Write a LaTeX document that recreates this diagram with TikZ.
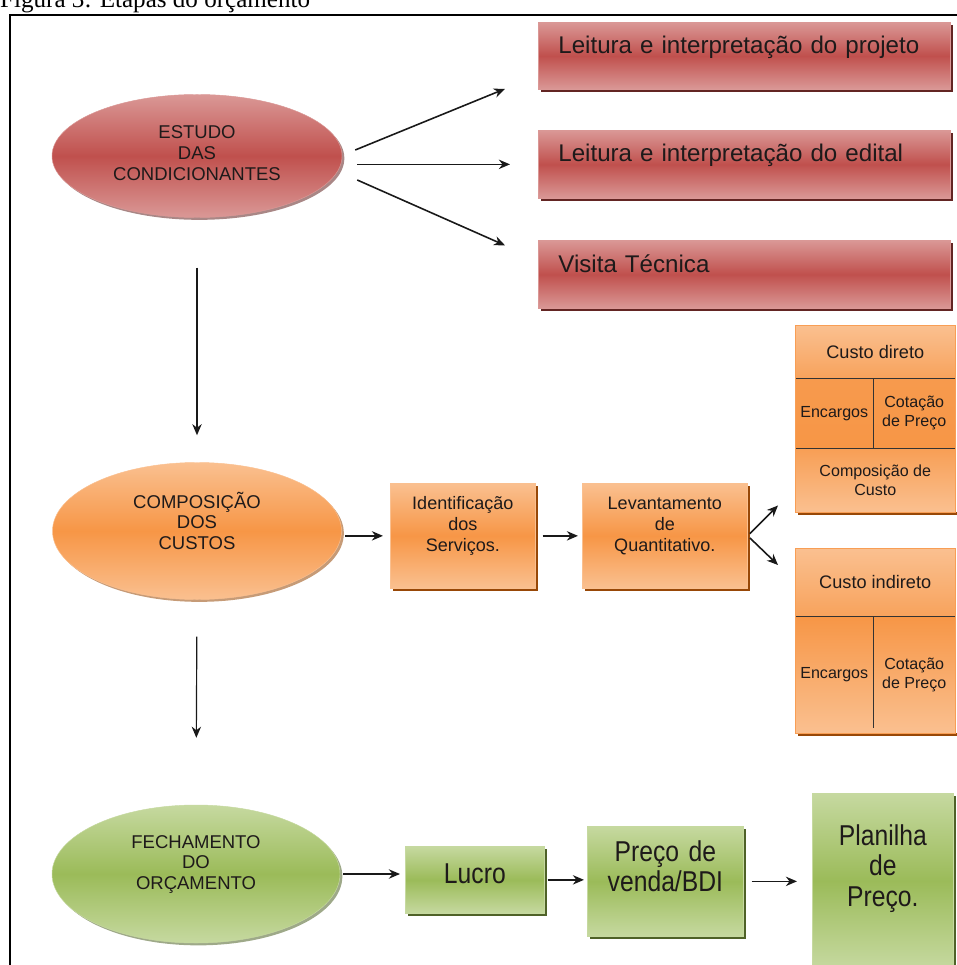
\documentclass[tikz,border=0pt]{standalone}
\usepackage{fontspec}
\setmainfont{Liberation Sans}
\newfontfamily\tnr{Liberation Serif}
\newfontfamily\nrw[FakeStretch=0.86]{Liberation Sans}
\usetikzlibrary{arrows.meta,shapes.geometric,shadows,calc}
\definecolor{redmd}{HTML}{C0504D}
\definecolor{redlt}{HTML}{DA9896}
\definecolor{reddk}{HTML}{632523}
\definecolor{orgmd}{HTML}{F79646}
\definecolor{orglt}{HTML}{FAC090}
\definecolor{orgdk}{HTML}{984807}
\definecolor{grnmd}{HTML}{9BBB59}
\definecolor{grnlt}{HTML}{C6D9A0}
\definecolor{grndk}{HTML}{4F6228}
\definecolor{ink}{HTML}{1E1A1A}
\newcommand{\fsz}[2]{\fontsize{#1}{#2}\selectfont}
\tikzset{
  oval/.style={ellipse,inner sep=0pt,align=center,text width=6cm,text=ink,draw=#1lt,line width=.4pt,
    top color=#1lt,bottom color=#1lt,middle color=#1md,font=\fsz{15.8}{17.5},
    drop shadow={shadow xshift=2pt,shadow yshift=-2pt,fill=#1dk,opacity=.55}},
  blk/.style={rectangle,anchor=north west,inner sep=0pt,align=center,text=ink,draw=#1lt,line width=.6pt,
    top color=#1lt,bottom color=#1lt,middle color=#1md,
    drop shadow={shadow xshift=2.6pt,shadow yshift=-2.6pt,fill=#1dk,opacity=1}},
  cellbox/.style={rectangle,anchor=north west,inner sep=0pt,align=center,text=ink},
  cellhd/.style={font=\fsz{15.5}{18}},
  celltx/.style={font=\fsz{13.7}{16}},
  sep/.style={draw=black!80,line width=.7pt},
  arr/.style={-{Stealth[length=9.5pt,width=8pt]},line width=1.35pt,draw=black!90}
}
\newcommand{\tabcell}[9]{\node[cellbox,#1,top color=#7,bottom color=#8,minimum width=#5cm,minimum height=#6cm] (#2) at (#3,#4) {#9};}

\begin{document}
\begin{tikzpicture}[x=0.03cm,y=-0.03cm]
\useasboundingbox (0,0) rectangle (956,965);
\node[anchor=base west,inner sep=0pt] (ttl) at (0,8) {\tnr\fsz{21.4}{24}Figura 3: Etapas do orçamento};
\draw[line width=1.7pt] (10,1000) -- (10,15) -- (1000,15);

% etapa 1
\node[oval=red,minimum width=8.7cm,minimum height=3.69cm,text height=.6cm,text depth=1.62cm] (est) at (197,156) {ESTUDO\\DAS\\CONDICIONANTES};
\node[blk=red,align=left,text width=11.16cm,inner xsep=.6cm,text height=.93cm,text depth=1.08cm,font=\fsz{20.6}{24}] (b1) at (538,22) {Leitura e interpretação do projeto};
\node[blk=red,align=left,text width=11.16cm,inner xsep=.6cm,text height=.93cm,text depth=1.11cm,font=\fsz{20.6}{24}] (b2) at (538,130) {Leitura e interpretação do edital};
\node[blk=red,align=left,text width=11.16cm,inner xsep=.6cm,text height=.96cm,text depth=1.08cm,font=\fsz{20.6}{24}] (b3) at (538,240) {Visita Técnica};
\draw[arr] ([shift={(13,-6)}]est.east) -- ([shift={(-33,33)}]b1.west);
\draw[arr,shorten <=.45cm,shorten >=.84cm] (b2.west -| est.east) -- (b2.west);
\draw[arr] ([shift={(15,24)}]est.east) -- ([shift={(-33,-29)}]b3.west);

% etapa 2
\node[oval=org,minimum width=8.67cm,minimum height=4.11cm,text height=.6cm,text depth=1.98cm] (comp) at (197,531) {COMPOSIÇÃO\\DOS\\CUSTOS};
\node[blk=org,text width=4.35cm,text height=.78cm,text depth=2.37cm,font=\fsz{15.4}{18}] (ident) at (390,483) {Identificação\\dos\\Serviços.};
\node[blk=org,text width=4.95cm,text height=.78cm,text depth=2.37cm,font=\fsz{15.4}{18}] (lev) at (582,483) {Levantamento\\de\\Quantitativo.};
\draw[arr,line width=1pt,shorten <=1.5cm,shorten >=.81cm] (est.south) -- (comp.north);
\draw[arr,shorten <=.1cm,shorten >=.21cm] (ident.west -| comp.east) -- (ident.west);
\draw[arr,shorten <=.21cm,shorten >=.12cm] (ident.east) -- (lev.west);

% custo direto
\fill[orgdk] ([xshift=.09cm]795,512) rectangle (960,515);
\tabcell{cellhd}{cdt}{795}{325}{4.8}{1.59}{orglt}{orgmd!70!orglt}{Custo direto}
\tabcell{celltx}{cde}{795}{378}{2.34}{2.1}{orgmd!90!orglt}{orgmd}{Encargos}
\tabcell{celltx}{cdc}{873}{378}{2.46}{2.1}{orgmd!90!orglt}{orgmd}{Cotação\\de Preço}
\tabcell{celltx}{cdp}{795}{448}{4.8}{1.92}{orgmd!80!orglt}{orglt}{Composição de\\Custo}
\draw[sep] (cdt.south west) -- (cdt.south east);
\draw[sep] (cdp.north west) -- (cdp.north east);
\draw[sep] (cde.north east) -- (cde.south east);
\draw[draw=orgmd!80!orglt,line width=.6pt] (cdt.north west) rectangle (cdp.south east);

% custo indireto
\fill[orgdk] (798,733) rectangle (960,736);
\tabcell{cellhd}{cit}{795}{548}{4.8}{2.04}{orglt}{orgmd!70!orglt}{Custo indireto}
\tabcell{celltx}{cie}{795}{616}{2.34}{3.51}{orgmd}{orglt}{Encargos}
\tabcell{celltx}{cic}{873}{616}{2.46}{3.51}{orgmd}{orglt}{Cotação\\de Preço}
\draw[sep] (cit.south west) -- (cit.south east);
\draw[sep] (cie.north east) -- ([yshift=.15cm]cie.south east);
\draw[draw=orgmd!80!orglt,line width=.6pt] (cit.north west) rectangle (cic.south east);
\draw[arr,shorten <=.09cm] (lev.east) -- ([shift={(-17,-7)}]cdp.south west);
\draw[arr,shorten <=.09cm] (lev.east) -- ([shift={(-17,17)}]cit.north west);

% etapa 3
\node[oval=grn,minimum width=8.64cm,minimum height=4.14cm,text height=.6cm,text depth=2.16cm] (fec) at (196,874) {FECHAMENTO\\DO\\ORÇAMENTO};
\node[blk=grn,text width=4.17cm,text height=1.11cm,text depth=.9cm,font=\nrw\fsz{24.5}{26}] (lucro) at (405,846) {Lucro};
\node[blk=grn,text width=4.68cm,text height=1.05cm,text depth=2.25cm,font=\nrw\fsz{24.5}{26}] (preco) at (587,826) {Preço de\\venda/BDI};
\node[blk=grn,text width=4.23cm,text height=1.56cm,text depth=3.69cm,font=\nrw\fsz{24.5}{26}] (plan) at (812,793) {Planilha\\de\\Preço.};
\draw[arr,line width=1pt,shorten <=1.11cm,shorten >=2.01cm] (comp.south) -- (fec.north);
\draw[arr,shorten <=.09cm,shorten >=.15cm] (fec.east) -- (fec.east -| lucro.west);
\draw[arr,shorten <=.09cm,shorten >=.09cm] (lucro.east) -- (lucro.east -| preco.west);
\draw[arr,shorten <=.24cm,shorten >=.45cm] (preco.east) -- (preco.east -| plan.west);
\end{tikzpicture}
\end{document}
